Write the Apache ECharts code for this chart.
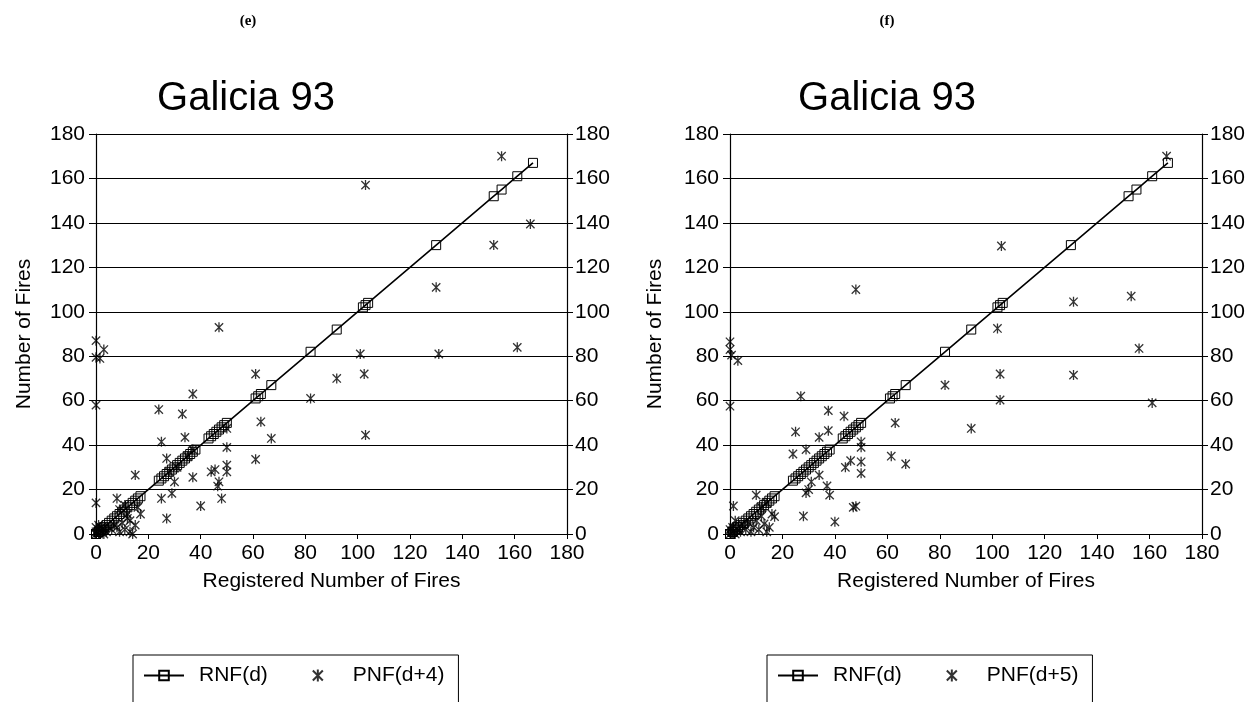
<!DOCTYPE html>
<html>
<head>
<meta charset="utf-8">
<script src="https://cdn.jsdelivr.net/npm/echarts@6/dist/echarts.min.js"></script>
<style>
html, body { margin: 0; padding: 0; background: #fff; }
#main { width: 1250px; height: 702px; }
</style>
</head>
<body>
<div id="main"></div>
<script>
// registered number of fires per day (x), RNF(d) lies on y = x
var rnfDays = [0, 0, 0, 0, 1, 1, 1, 2, 2, 3, 3, 4, 5, 6, 7, 8, 9, 10, 11, 12, 13, 14, 15, 16, 17,
  24, 25, 26, 27, 28, 29, 30, 31, 32, 33, 34, 35, 36, 37, 38, 43, 44, 45, 46, 47, 48, 49, 50,
  61, 62, 63, 67, 82, 92, 102, 103, 104, 130, 152, 155, 161, 167];

// predicted number of fires, [registered, predicted]
var pnf4 = [
  [0, 0], [0, 1], [0, 3], [1, 0], [1, 2], [1, 4], [2, 1], [2, 3], [3, 0], [3, 2], [4, 1], [5, 3],
  [6, 2], [7, 4], [8, 3], [9, 1], [10, 5], [11, 2], [12, 7], [13, 1], [14, 0], [13, 6], [15, 4],
  [9, 11], [11, 13], [12, 9], [16, 12],
  [0, 87], [0, 79.5], [1.5, 79], [3, 83], [0, 58], [0, 14], [8, 16], [17, 9], [15, 26.5],
  [24, 56], [25, 41.5], [25, 16], [27, 34], [27, 7], [29, 18.3], [30, 23.5], [28, 28], [31, 30],
  [33, 54], [34, 43.5], [35, 35], [37, 63], [37, 25.5], [37, 38], [40, 12.6], [44, 28],
  [45.5, 29], [46.5, 21.5], [47, 23.5], [47, 93], [48, 16], [50, 31], [50, 28], [50, 39],
  [50, 47.5], [61, 72], [61, 33.6], [63, 50.5], [67, 43], [82, 61], [92, 70], [101, 81],
  [102.5, 72], [103, 44.5], [103, 157], [130, 111], [131, 81], [152, 130], [155, 170],
  [161, 84], [166, 139.5]
];

var pnf5 = [
  [0, 0], [0, 2], [1, 1], [1, 3], [2, 0], [2, 6], [3, 2], [4, 1], [5, 4], [6, 2], [7, 5], [8, 1],
  [9, 3], [10, 6], [11, 2], [12, 8], [13, 4.5], [14, 1], [15, 3], [16, 9], [17, 7.8], [12, 12],
  [14, 14],
  [0, 86.5], [0, 83], [0.6, 80.5], [3, 78], [0, 57.5], [1.3, 12.6], [10, 17.5], [24, 36],
  [25, 46], [27, 62], [28, 8], [29, 38], [29, 18.5], [30, 20], [31, 23.5], [34, 26.5],
  [34, 43.5], [37, 21.6], [37.5, 55.5], [37.5, 46.5], [38, 17.5], [40, 5.5], [43.5, 53],
  [44, 30], [46, 33], [47, 12], [48, 12.5], [48, 110], [50, 41.5], [50, 39], [50, 32.5],
  [50, 27.3], [61.5, 35], [63, 50], [67, 31.5], [82, 67], [92, 47.5], [102, 92.5], [103, 72],
  [103, 60.3], [103.5, 129.6], [131, 104.5], [131, 71.5], [153, 107], [156, 83.5], [161, 59],
  [166.5, 170]
];

var axisMin = 0, axisMax = 180, axisStep = 20;

var font = "'Liberation Sans', Arial, sans-serif";
// asterisk marker: x with a vertical bar
var star = 'path://M0,0L10,10M10,0L0,10M5,-1L5,11';

var chart = echarts.init(document.getElementById('main'));

function xAx(grid) {
  return {
    type: 'value', gridIndex: grid, min: axisMin, max: axisMax, interval: axisStep,
    name: 'Registered Number of Fires', nameLocation: 'middle', nameGap: 37,
    nameTextStyle: { color: '#000', fontSize: 21, fontFamily: font },
    axisLine: { show: true, lineStyle: { color: '#000', width: 1.2 } },
    axisTick: { show: true, length: 5, lineStyle: { color: '#000' } },
    axisLabel: { color: '#000', fontSize: 21, fontFamily: font, margin: 9 },
    splitLine: { show: false }
  };
}
function yLeft(grid, gap) {
  return {
    type: 'value', gridIndex: grid, position: 'left', min: axisMin, max: axisMax, interval: axisStep,
    name: 'Number of Fires', nameLocation: 'middle', nameGap: gap,
    nameTextStyle: { color: '#000', fontSize: 21, fontFamily: font },
    axisLine: { show: true, lineStyle: { color: '#000', width: 1.2 } },
    axisTick: { show: true, length: 7, lineStyle: { color: '#000' } },
    axisLabel: { color: '#000', fontSize: 21, fontFamily: font, margin: 11 },
    splitLine: { show: true, lineStyle: { color: '#000', width: 1.2 } }
  };
}
function yRight(grid) {
  return {
    type: 'value', gridIndex: grid, position: 'right', min: axisMin, max: axisMax, interval: axisStep,
    axisLine: { show: true, lineStyle: { color: '#000', width: 1.2 } },
    axisTick: { show: true, length: 6, lineStyle: { color: '#000' } },
    axisLabel: { color: '#000', fontSize: 21, fontFamily: font, margin: 8 },
    splitLine: { show: false }
  };
}

function rnfSeries(grid) {
  return {
    name: 'RNF(d)', type: 'line', xAxisIndex: grid, yAxisIndex: grid * 2,
    data: rnfDays.map(function (v) { return [v, v]; }),
    symbol: 'rect', symbolSize: 9, showAllSymbol: true,
    itemStyle: { color: 'rgba(0,0,0,0)', borderColor: '#000', borderWidth: 1 },
    lineStyle: { color: '#000', width: 1.6 },
    z: 3
  };
}
function pnfSeries(name, grid, data) {
  return {
    name: name, type: 'scatter', xAxisIndex: grid, yAxisIndex: grid * 2,
    data: data, symbol: star, symbolSize: 10, symbolKeepAspect: true,
    itemStyle: { color: 'rgba(0,0,0,0)', borderColor: '#000', borderWidth: 1.3 },
    z: 4
  };
}

function legendBox(left, names) {
  return {
    left: left, top: 655, orient: 'horizontal',
    data: names, itemWidth: 40, itemHeight: 12, itemGap: 44,
    padding: [10, 14, 40, 10],
    borderColor: '#000', borderWidth: 1,
    textStyle: { color: '#000', fontSize: 21, fontFamily: font, padding: [0, 0, 0, 10] },
    selectedMode: false
  };
}

var labelFont = { fontFamily: "'Liberation Serif', serif", fontWeight: 'bold', fontSize: 15, color: '#000' };
var titleFont = { fontFamily: font, fontWeight: 'normal', fontSize: 40, color: '#000' };

var option = {
  animation: false,
  backgroundColor: '#fff',
  title: [
    { text: '(e)', left: 243, top: 9, textAlign: 'center', textStyle: labelFont },
    { text: '(f)', left: 882, top: 9, textAlign: 'center', textStyle: labelFont },
    { text: 'Galicia 93', left: 241, top: 74, textAlign: 'center', textStyle: titleFont },
    { text: 'Galicia 93', left: 882, top: 74, textAlign: 'center', textStyle: titleFont }
  ],
  legend: [
    legendBox(133, ['RNF(d)', 'PNF(d+4)']),
    legendBox(767, ['RNF(d)', 'PNF(d+5)'])
  ],
  grid: [
    { left: 96, top: 134, width: 471, height: 400 },
    { left: 730, top: 134, width: 472, height: 400 }
  ],
  xAxis: [xAx(0), xAx(1)],
  yAxis: [yLeft(0, 61), yRight(0), yLeft(1, 64), yRight(1)],
  series: [
    rnfSeries(0),
    pnfSeries('PNF(d+4)', 0, pnf4),
    rnfSeries(1),
    pnfSeries('PNF(d+5)', 1, pnf5)
  ]
};

chart.setOption(option);
</script>
</body>
</html>
